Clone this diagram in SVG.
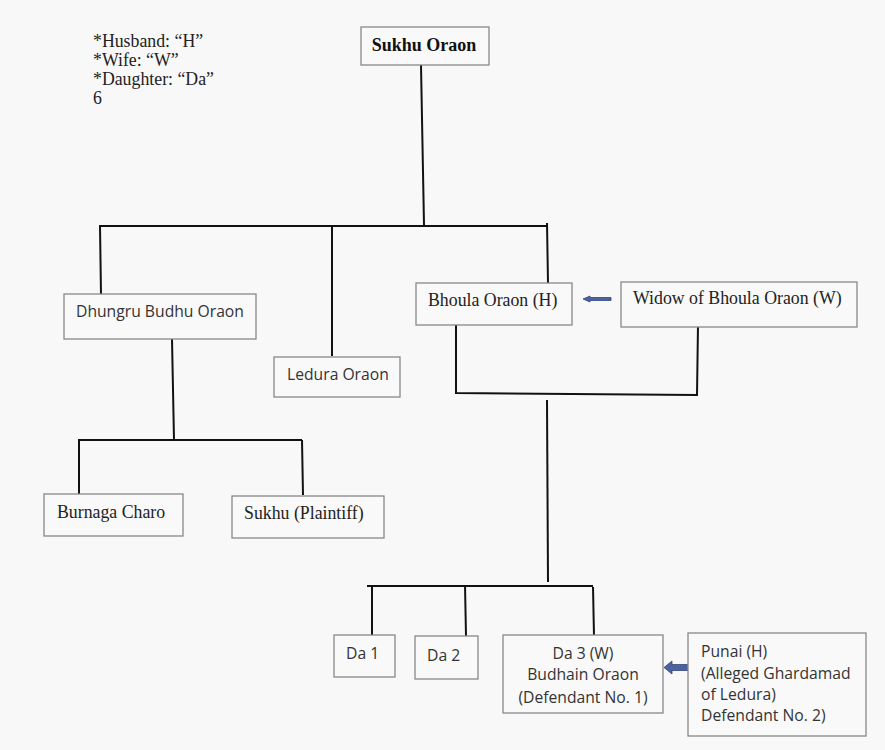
<svg xmlns="http://www.w3.org/2000/svg" width="885" height="750" viewBox="0 0 885 750">
<style>
.bx{fill:#f9f9f9;stroke:#888;stroke-width:1.3}
.s{font-family:"Liberation Serif",serif;font-size:17.8px;fill:#222}
.n{font-family:"Open Sans","Noto Sans",sans-serif;font-size:15.7px;fill:#333}
.ln{stroke:#111;stroke-width:2;fill:none}
.ar{fill:#4a62a0;stroke:#34457a;stroke-width:0.8}
</style>
<rect width="885" height="750" fill="#f8f8f8"/>
<g id="legend">
<text class="s" x="93" y="47">*Husband: “H”</text>
<text class="s" x="93" y="66">*Wife: “W”</text>
<text class="s" x="93" y="85">*Daughter: “Da”</text>
<text class="s" x="93" y="104">6</text>
</g>
<g id="connectors">
<path class="ln" d="M421 65 L424 225"/>
<path class="ln" d="M99 226 L547 226"/>
<path class="ln" d="M100 226 L101 294"/>
<path class="ln" d="M332 226 L332 356"/>
<path class="ln" d="M547 223 L548 283"/>
<path class="ln" d="M456 325 L456 393 L697 395 L698 325"/>
<path class="ln" d="M547 400 L548 582"/>
<path class="ln" d="M172 339 L174 440"/>
<path class="ln" d="M78 440 L302 440"/>
<path class="ln" d="M79 440 L79 494"/>
<path class="ln" d="M302 440 L303 495"/>
<path class="ln" d="M367 586 L593 586"/>
<path class="ln" d="M372 586 L372 635"/>
<path class="ln" d="M465 585 L466 636"/>
<path class="ln" d="M593 587 L594 636"/>
<path class="ar" d="M611 297.5 L590 297.5 L590 296 L583 299 L590 302 L590 300.5 L611 300.5 Z"/>
<path class="ar" d="M689 664.5 L672 664.5 L672 661 L664 667.5 L672 674 L672 670.5 L689 670.5 Z"/>
</g>
<g id="sukhu-oraon">
<rect class="bx" x="361" y="27" width="128" height="38"/>
<text x="424" y="51" text-anchor="middle" style="font-family:'Liberation Serif',serif;font-size:18px;font-weight:bold;fill:#111">Sukhu Oraon</text>
</g>
<g id="dhungru">
<rect class="bx" x="64" y="294" width="192" height="45"/>
<text class="n" x="76" y="317">Dhungru Budhu Oraon</text>
</g>
<g id="ledura">
<rect class="bx" x="274" y="357" width="126" height="40"/>
<text class="n" x="287" y="380">Ledura Oraon</text>
</g>
<g id="bhoula">
<rect class="bx" x="416" y="283" width="156" height="42"/>
<text class="s" x="428" y="306">Bhoula Oraon (H)</text>
</g>
<g id="widow">
<rect class="bx" x="621" y="282" width="236" height="45"/>
<text class="s" x="633" y="304">Widow of Bhoula Oraon (W)</text>
</g>
<g id="burnaga">
<rect class="bx" x="44" y="494" width="139" height="42"/>
<text class="s" x="57" y="518">Burnaga Charo</text>
</g>
<g id="sukhu-plaintiff">
<rect class="bx" x="232" y="496" width="152" height="42"/>
<text class="s" x="244" y="519">Sukhu (Plaintiff)</text>
</g>
<g id="da1">
<rect class="bx" x="334" y="635" width="61" height="42"/>
<text class="n" x="346" y="659">Da 1</text>
</g>
<g id="da2">
<rect class="bx" x="415" y="636" width="63" height="43"/>
<text class="n" x="427" y="661">Da 2</text>
</g>
<g id="da3">
<rect class="bx" x="503" y="635" width="160" height="78"/>
<text class="n" x="583" y="659" text-anchor="middle">Da 3 (W)</text>
<text class="n" x="583" y="680" text-anchor="middle">Budhain Oraon</text>
<text class="n" x="583" y="703" text-anchor="middle">(Defendant No. 1)</text>
</g>
<g id="punai">
<rect class="bx" x="688" y="633" width="178" height="103"/>
<text class="n" x="701" y="657">Punai (H)</text>
<text class="n" x="701" y="679">(Alleged Ghardamad</text>
<text class="n" x="701" y="700">of Ledura)</text>
<text class="n" x="701" y="721">Defendant No. 2)</text>
</g>
</svg>
